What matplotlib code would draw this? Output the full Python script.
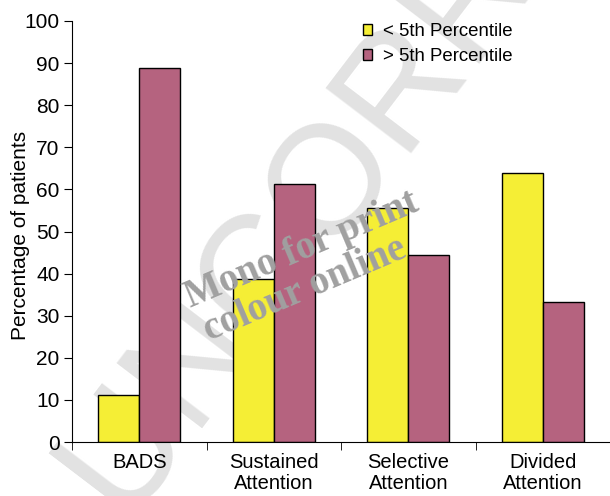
import matplotlib.pyplot as plt
import numpy as np

plt.rcParams['font.family'] = ['Liberation Sans', 'DejaVu Sans']

categories = ['BADS', 'Sustained\nAttention', 'Selective\nAttention', 'Divided\nAttention']
below_5th = [11.2, 38.8, 55.6, 63.8]
above_5th = [88.8, 61.2, 44.4, 33.3]
series_names = ['< 5th Percentile', '> 5th Percentile']
yticks = list(range(0, 101, 10))

yellow = '#f5ee35'
purple = '#b5637f'

fig = plt.figure(figsize=(6.10, 4.96), dpi=100)
ax = fig.add_axes([72 / 610, 1 - 442 / 496, 538 / 610, 421 / 496])
ax.set_facecolor('none')

# background watermark, drawn under the axes
fig.text(0.748, 0.975, 'UNCORRECTED', rotation=52.7, fontsize=112, color='#e2e2e2',
         ha='center', va='center', zorder=-1)

x = np.arange(len(categories))
w = 0.305
ax.bar(x - w / 2, below_5th, w, color=yellow, edgecolor='black', linewidth=1, label=series_names[0], zorder=2)
ax.bar(x + w / 2, above_5th, w, color=purple, edgecolor='black', linewidth=1, label=series_names[1], zorder=2)

ax.set_xlim(-0.5, 3.5)
ax.set_ylim(0, 100)
ax.set_yticks(yticks)
ax.set_xticks(x)
ax.set_xticklabels(categories, linespacing=1.1)
ax.set_xticks(np.arange(-0.5, 3.5, 1), minor=True)
ax.tick_params(axis='x', which='major', length=0, pad=8, labelsize=14.5)
ax.tick_params(axis='x', which='minor', length=6, direction='out')
ax.tick_params(axis='y', length=6, direction='out', labelsize=15, pad=3)
for s in ['top', 'right']:
    ax.spines[s].set_visible(False)
ax.set_ylabel('Percentage of patients', fontsize=15)
ax.yaxis.set_label_coords(-0.078, 0.49)

leg = ax.legend(loc='upper left', bbox_to_anchor=(0.51, 1.035), frameon=False, fontsize=13.4,
                handlelength=0.5, handleheight=0.5, handletextpad=0.55, labelspacing=0.45)

ax.text(0.427, 0.456, 'Mono for print', transform=ax.transAxes, rotation=23, fontsize=28,
        fontfamily='Liberation Serif', fontweight='bold', color='#a0a0a0',
        ha='center', va='center', zorder=3)
ax.text(0.433, 0.361, 'colour online', transform=ax.transAxes, rotation=23, fontsize=28,
        fontfamily='Liberation Serif', fontweight='bold', color='#a0a0a0',
        ha='center', va='center', zorder=3)

fig.savefig('out.png', dpi=100)
